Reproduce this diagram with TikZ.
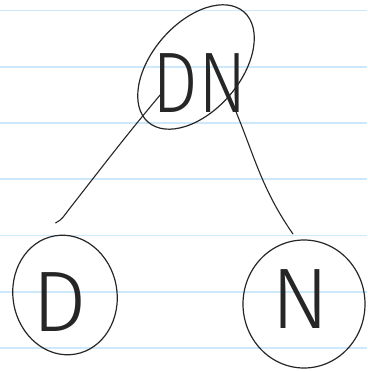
\documentclass[tikz,border=0pt]{standalone}
\usepackage{fontspec}
\newfontfamily\hand{Fira Sans Light}
\usetikzlibrary{shapes.geometric,calc}

\definecolor{ruleblue}{RGB}{204,232,250}

\begin{document}
\begin{tikzpicture}[
	x=1pt, y=-1pt,
	rule/.style={draw=ruleblue, line width=1.6pt},
	ring/.style={ellipse, draw=black!85, line width=1.2pt, inner sep=0pt, outer sep=0pt},
	word/.style={font=\hand\fontsize{86}{86}\selectfont, text=black!85, inner sep=0pt},
	link/.style={draw=black!85, line width=1.1pt, line cap=round},
	]
	
	\useasboundingbox (0,0) rectangle (367,372);
	
	% lined paper
	\foreach \y in {10.5,66.75,...,348}
	\draw[rule] (0,\y) -- (367,\y);
	
	\node[ring, minimum width=146pt, minimum height=88pt, rotate=49] (dnring) at (196,67) {};
	\node[word, xscale=0.84] (dn) at (200,83) {DN};
	
	\node[ring, minimum width=104pt, minimum height=120pt, rotate=10] (d) at (65,295) {};
	\node[word] (dtext) at (60,302) {D};
	
	\node[ring, minimum width=122pt, minimum height=128pt] (n) at (304,304) {};
	\node[word] (ntext) at (300,299) {N};
	
	\coordinate (dnl) at ($(dnring)!0.6!(dnring.168)$);
	\draw[link] (dnl) to[out=-130,in=52] ($(d.north)+(14,-26)$) to[out=-128,in=25] ($(d.north)+(1,-13)$);
	\draw[link] (dnring.south) to[out=-66,in=125] ($(n.north)+(-11,-6)$);

\end{tikzpicture}
\end{document}
